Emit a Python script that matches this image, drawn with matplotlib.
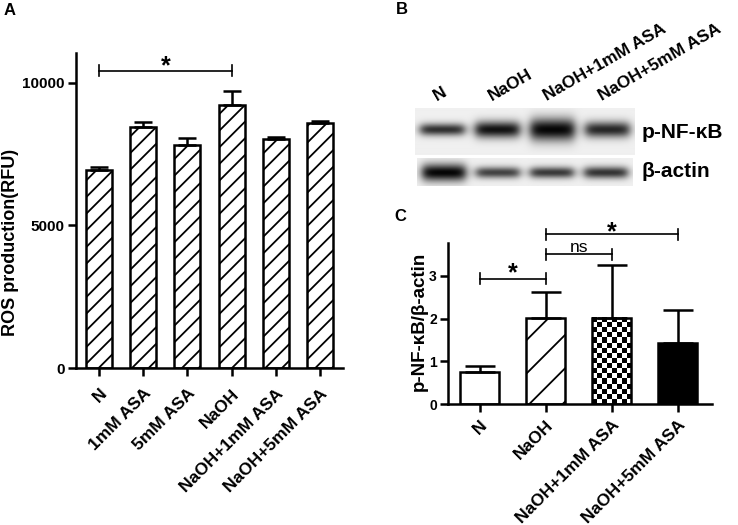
import numpy as np
import matplotlib
matplotlib.use("Agg")
import matplotlib.pyplot as plt
import matplotlib.transforms as mtransforms

plt.rcParams['font.family'] = ['Liberation Sans', 'DejaVu Sans']
plt.rcParams['font.weight'] = 'bold'
plt.rcParams['axes.labelweight'] = 'bold'
plt.rcParams['hatch.linewidth'] = 1.3
plt.rcParams['axes.linewidth'] = 1.8

# panel A: ROS production
ros_groups = ["N", "1mM ASA", "5mM ASA", "NaOH", "NaOH+1mM ASA", "NaOH+5mM ASA"]
ros_mean = [6950, 8470, 7820, 9230, 8020, 8610]
ros_err = [100, 170, 260, 500, 70, 50]

# panel B: western blot band strength per lane
blot_lanes = ["N", "NaOH", "NaOH+1mM ASA", "NaOH+5mM ASA"]
pnfkb_density = [0.82, 0.95, 1.00, 0.86]
pnfkb_thickness = [0.85, 1.15, 1.55, 1.10]
actin_density = [1.00, 0.74, 0.78, 0.80]
actin_thickness = [1.30, 0.85, 0.85, 0.90]

# panel C: p-NF-kB / b-actin ratio
ratio_groups = ["N", "NaOH", "NaOH+1mM ASA", "NaOH+5mM ASA"]
ratio_mean = [0.76, 2.02, 2.02, 1.44]
ratio_err = [0.14, 0.60, 1.24, 0.76]

fig = plt.figure(figsize=(7.38, 5.25), dpi=100)


def style_axes(ax, ysize, xpad):
    ax.spines['top'].set_visible(False)
    ax.spines['right'].set_visible(False)
    ax.tick_params(axis='both', width=1.8, length=6, direction='out')
    ax.tick_params(axis='x', labelsize=12.5, pad=xpad)
    ax.tick_params(axis='y', labelsize=ysize, pad=2)
    for lab in ax.get_xticklabels() + ax.get_yticklabels():
        lab.set_fontweight('bold')


def bracket(ax, x1, x2, y, tick, label, ly, fs):
    ax.plot([x1, x2], [y, y], color='k', lw=1.2, clip_on=False)
    ax.plot([x1, x1], [y - tick, y + tick], color='k', lw=1.2, clip_on=False)
    ax.plot([x2, x2], [y - tick, y + tick], color='k', lw=1.2, clip_on=False)
    ax.text((x1 + x2) / 2, ly, label, ha='center', va='center', fontsize=fs,
            fontweight='normal' if label == 'ns' else 'bold', clip_on=False)


# ---- A ----
axA = fig.add_axes([76 / 738, 1 - 368 / 525, 267 / 738, 315 / 525])
xa = np.arange(len(ros_groups))
axA.bar(xa, ros_mean, width=0.59, color='white', edgecolor='black',
        linewidth=1.8, hatch='//', zorder=2)
axA.errorbar(xa, ros_mean, yerr=[np.zeros(len(ros_err)), ros_err], fmt='none',
             ecolor='black', elinewidth=1.8, capsize=6.5, capthick=1.8, zorder=3)
axA.set_xlim(-0.52, len(ros_groups) - 0.48)
axA.set_ylim(0, 11050)
axA.set_yticks([0, 5000, 10000])
axA.set_xticks(xa)
axA.set_xticklabels(ros_groups, rotation=45, ha='right', rotation_mode='anchor')
axA.set_ylabel("ROS production(RFU)", fontsize=13)
axA.yaxis.set_label_coords(-0.215, 0.40)
style_axes(axA, 11, 7)
bracket(axA, 0, 3, 10430, 200, '*', 10570, 18)

# ---- B ----
def blot_strip(density, thickness, rows, yc, half):
    cols = 440
    n = len(density)
    x = (np.arange(cols) + 0.5) / cols * n
    y = (np.arange(rows) + 0.5) / rows
    img = np.full((rows, cols), 0.94)
    for i, (d, t) in enumerate(zip(density, thickness)):
        hx = 1 / (1 + np.exp((np.abs(x - (i + 0.5)) - 0.40) / 0.05))
        vy = np.exp(-((y - yc) / (half * t)) ** 2)
        img -= 0.92 * d * np.outer(vy, hx)
    return np.clip(img, 0, 1)


axB1 = fig.add_axes([415 / 738, 1 - 155 / 525, 220 / 738, 47 / 525])
axB1.imshow(blot_strip(pnfkb_density, pnfkb_thickness, 47, 0.47, 0.15),
            cmap='gray', vmin=0, vmax=1, extent=(0, 4, 0, 1), aspect='auto',
            interpolation='bilinear')
axB1.axis('off')
axB2 = fig.add_axes([417 / 738, 1 - 186 / 525, 216 / 738, 28 / 525])
axB2.imshow(blot_strip(actin_density, actin_thickness, 28, 0.52, 0.24),
            cmap='gray', vmin=0, vmax=1, extent=(0, 4, 0, 1), aspect='auto',
            interpolation='bilinear')
axB2.axis('off')

trans = mtransforms.blended_transform_factory(axB1.transData, axB1.transAxes)
for i, lane in enumerate(blot_lanes):
    axB1.text(i + 0.5 - 0.07, 1.1, lane, transform=trans, rotation=30,
              rotation_mode='anchor', ha='left', va='bottom', fontsize=12.5)
axB1.text(1.03, 0.47, "p-NF-κB", transform=axB1.transAxes, ha='left',
          va='center', fontsize=15)
axB2.text(1.04, 0.52, "β-actin", transform=axB2.transAxes, ha='left',
          va='center', fontsize=15)

# ---- C ----
axC = fig.add_axes([448 / 738, 1 - 404 / 525, 264 / 738, 161 / 525])
xc = np.arange(len(ratio_groups))
bars = axC.bar(xc, ratio_mean, width=0.6, color=['white', 'white', 'none', 'black'],
               edgecolor='black', linewidth=1.8, zorder=2)
bars[1].set_hatch('/')
# checkerboard fill for the third bar
b = bars[2]
nx, ny = 8, int(round(ratio_mean[2] / 0.118))
checks = (np.indices((ny, nx)).sum(axis=0) % 2).astype(float)
axC.imshow(checks, cmap='gray', vmin=0, vmax=1, interpolation='nearest',
           extent=(b.get_x(), b.get_x() + b.get_width(), 0, b.get_height()),
           aspect='auto', zorder=1)
axC.errorbar(xc, ratio_mean, yerr=[np.zeros(len(ratio_err)), ratio_err], fmt='none',
             ecolor='black', elinewidth=1.8, capsize=11, capthick=1.8, zorder=3)
axC.set_xlim(-0.48, len(ratio_groups) - 0.48)
axC.set_ylim(0, 3.77)
axC.set_yticks([0, 1, 2, 3])
axC.set_xticks(xc)
axC.set_xticklabels(ratio_groups, rotation=45, ha='right', rotation_mode='anchor')
axC.set_ylabel("p-NF-κB/β-actin", fontsize=13.5)
axC.yaxis.set_label_coords(-0.078, 0.515)
style_axes(axC, 10, 3.5)
bracket(axC, 0, 1, 2.93, 0.13, '*', 3.07, 18)
bracket(axC, 1, 2, 3.51, 0.13, 'ns', 3.66, 12.5)
bracket(axC, 1, 3, 3.97, 0.13, '*', 4.01, 18)

# panel letters
fig.text(4 / 738, 1 - 3 / 525, 'A', ha='left', va='top', fontsize=12)
fig.text(396 / 738, 1 - 2 / 525, 'B', ha='left', va='top', fontsize=12)
fig.text(394 / 738, 1 - 209 / 525, 'C', ha='left', va='top', fontsize=12)

fig.savefig("out.png", dpi=100)
